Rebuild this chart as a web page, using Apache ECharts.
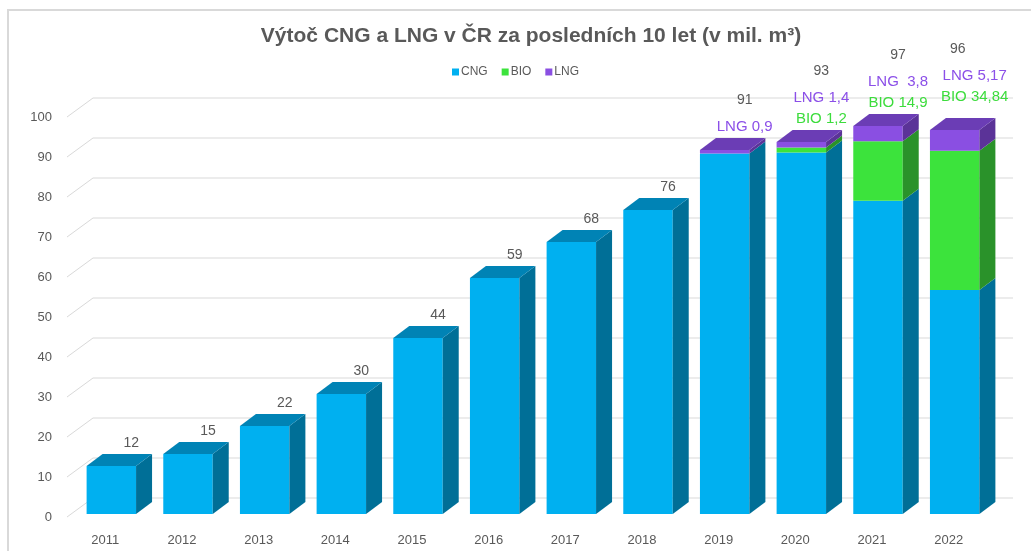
<!DOCTYPE html>
<html>
<head>
<meta charset="utf-8">
<script src="https://cdn.jsdelivr.net/npm/echarts@6/dist/echarts.min.js"></script>
<style>html,body{margin:0;padding:0;background:#fff}#c{width:1031px;height:551px}</style>
</head>
<body>
<div id="c"></div>
<script>
// ---- data ----
const years = ['2011','2012','2013','2014','2015','2016','2017','2018','2019','2020','2021','2022'];
const cng   = [12, 15, 22, 30, 44, 59, 68, 76, 90.1, 90.4, 78.3, 55.99];
const bio   = [0, 0, 0, 0, 0, 0, 0, 0, 0, 1.2, 14.9, 34.84];
const lng   = [0, 0, 0, 0, 0, 0, 0, 0, 0.9, 1.4, 3.8, 5.17];
const totals = [12, 15, 22, 30, 44, 59, 68, 76, 91, 93, 97, 96];
const bioLabels = ['', '', '', '', '', '', '', '', '', 'BIO 1,2', 'BIO 14,9', 'BIO 34,84'];
const lngLabels = ['', '', '', '', '', '', '', '', 'LNG 0,9', 'LNG 1,4', 'LNG  3,8', 'LNG 5,17'];
const yTicks = [0, 10, 20, 30, 40, 50, 60, 70, 80, 90, 100];

// ---- layout / style constants ----
const DEPTH_X = 16, DEPTH_Y = 12;      // bar depth
const BACK_X = 26, BACK_Y = 19;        // back wall offset
const BAR_SHIFT_X = 6, BAR_SHIFT_Y = 3;
const labelNudge = { '2022': { dy: -10, totalDx: -17 } };
const TXT = '#595959';
const FONT = 'Liberation Sans, Arial, sans-serif';
const palette = {
  CNG: { front: '#00B0F0', side: '#006F97', top: '#0083B5' },
  BIO: { front: '#3CE33C', side: '#2A922A', top: '#2FB52F' },
  LNG: { front: '#8A4FE2', side: '#5B3398', top: '#6B3DB5' }
};

// build stacked segments
const segs = { CNG: [], BIO: [], LNG: [] };
years.forEach((y, i) => {
  const vals = [['CNG', cng[i]], ['BIO', bio[i]], ['LNG', lng[i]]];
  let base = 0, topName = null;
  vals.forEach(([n, v]) => { if (v > 0) topName = n; });
  vals.forEach(([n, v]) => {
    segs[n].push([i, base, base + v, n === topName ? 1 : 0]);
    base += v;
  });
});

function barRender(name) {
  const col = palette[name];
  return function (params, api) {
    const i = api.value(0), lo = api.value(1), hi = api.value(2), isTop = api.value(3);
    if (hi - lo <= 0) return;
    const p0 = api.coord([i, lo]), p1 = api.coord([i, hi]);
    const bw = api.size([1, 0])[0] * 0.645;
    const x0 = p0[0] - bw / 2 + BAR_SHIFT_X;
    const yb = p0[1] - BAR_SHIFT_Y, yt = p1[1] - BAR_SHIFT_Y;
    const children = [
      { type: 'rect', shape: { x: x0, y: yt, width: bw, height: yb - yt }, style: { fill: col.front } },
      { type: 'polygon', shape: { points: [[x0 + bw, yt], [x0 + bw + DEPTH_X, yt - DEPTH_Y], [x0 + bw + DEPTH_X, yb - DEPTH_Y], [x0 + bw, yb]] }, style: { fill: col.side } }
    ];
    if (isTop) {
      children.push({ type: 'polygon', shape: { points: [[x0, yt], [x0 + DEPTH_X, yt - DEPTH_Y], [x0 + bw + DEPTH_X, yt - DEPTH_Y], [x0 + bw, yt]] }, style: { fill: col.top } });
    }
    return { type: 'group', children };
  };
}

function gridRender(params, api) {
  const v = api.value(1);
  const p = api.coord([0, v]);
  const cs = params.coordSys;
  const xl = cs.x, xr = cs.x + cs.width;
  return {
    type: 'polyline',
    shape: { points: [[xl, p[1]], [xl + BACK_X, p[1] - BACK_Y], [xr + BACK_X, p[1] - BACK_Y]] },
    style: { stroke: '#D9D9D9', lineWidth: 1, fill: null }
  };
}

function labelRender(params, api) {
  const i = api.value(0), tot = api.value(1);
  const p = api.coord([i, tot]);
  const nudge = labelNudge[years[i]] || { dy: 0, totalDx: 0 };
  const x = p[0] + BACK_X;
  let y = p[1] - 26 + nudge.dy;
  const kids = [];
  const mk = (text, xx, yy, fill, size) => ({
    type: 'text', style: { text, x: xx, y: yy, fill, font: size + 'px ' + FONT, textAlign: 'center', textVerticalAlign: 'middle' }
  });
  let hasAnn = false;
  if (bioLabels[i]) { kids.push(mk(bioLabels[i], x, y, '#3CDC3C', 15)); y -= 21; hasAnn = true; }
  if (lngLabels[i]) { kids.push(mk(lngLabels[i], x, y, '#8B4FE8', 15)); y -= 21; hasAnn = true; }
  if (hasAnn) y -= 6;
  kids.push(mk(String(tot), x + (nudge.totalDx || 0), y, TXT, 14));
  return { type: 'group', children: kids };
}

const chart = echarts.init(document.getElementById('c'), null, { renderer: 'canvas' });
chart.setOption({
  animation: false,
  backgroundColor: '#fff',
  graphic: [{ type: 'rect', shape: { x: 8, y: 10, width: 1060, height: 580 }, style: { fill: null, stroke: '#D9D9D9', lineWidth: 2 }, z: 0 }],
  title: {
    text: 'Výtoč CNG a LNG v ČR za posledních 10 let (v mil. m³)',
    left: 526, top: 21, textAlign: 'center',
    textStyle: { fontFamily: FONT, fontSize: 21, fontWeight: 'bold', color: TXT }
  },
  legend: {
    data: ['CNG', 'BIO', 'LNG'],
    left: 'center', top: 61,
    icon: 'rect', itemWidth: 7, itemHeight: 7, itemGap: 14,
    textStyle: { fontFamily: FONT, fontSize: 12, color: TXT, padding: [0, 0, 0, -3] }
  },
  grid: { left: 67, right: 44, top: 117, bottom: 34, containLabel: false },
  xAxis: {
    type: 'category', data: years,
    axisLine: { show: false }, axisTick: { show: false },
    axisLabel: { color: TXT, fontFamily: FONT, fontSize: 13, margin: 17 }
  },
  yAxis: {
    type: 'value', min: 0, max: 100, interval: 10,
    splitLine: { show: false }, axisLine: { show: false }, axisTick: { show: false },
    axisLabel: { color: TXT, fontFamily: FONT, fontSize: 13, margin: 15 }
  },
  series: [
    { type: 'custom', name: 'grid', renderItem: gridRender, data: yTicks.map(v => [0, v]), z: 1, silent: true },
    { type: 'custom', name: 'CNG', renderItem: barRender('CNG'), data: segs.CNG, itemStyle: { color: palette.CNG.front }, z: 2 },
    { type: 'custom', name: 'BIO', renderItem: barRender('BIO'), data: segs.BIO, itemStyle: { color: palette.BIO.front }, z: 2 },
    { type: 'custom', name: 'LNG', renderItem: barRender('LNG'), data: segs.LNG, itemStyle: { color: palette.LNG.front }, z: 2 },
    { type: 'custom', name: 'labels', renderItem: labelRender, data: years.map((y, i) => [i, totals[i]]), z: 3, silent: true }
  ]
});
</script>
</body>
</html>
